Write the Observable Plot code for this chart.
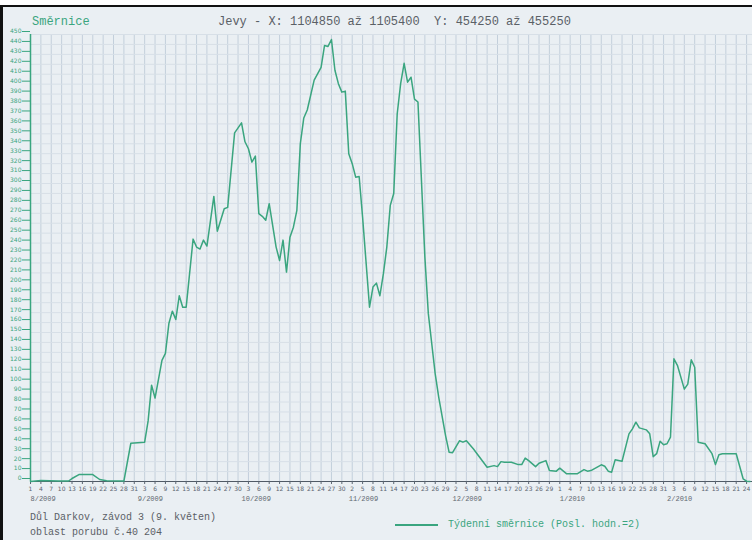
<!DOCTYPE html>
<html><head><meta charset="utf-8">
<script src="https://cdn.jsdelivr.net/npm/d3@7"></script>
<script src="https://cdn.jsdelivr.net/npm/@observablehq/plot@0.6"></script>
<style>
body{margin:0;background:#fff}
#wrap{position:relative;width:752px;height:540px;overflow:hidden;background:#eaeff3;font-family:"Liberation Mono","DejaVu Sans Mono",monospace}
#wrap svg{position:absolute;left:0;top:0}
.t{position:absolute;white-space:pre;line-height:1}
</style></head>
<body>
<div id="wrap">
  <div id="chart"></div>
  <div style="position:absolute;left:0;top:0;width:752px;height:5px;background:#fff"></div>
  <div style="position:absolute;left:0;top:5px;width:752px;height:2px;background:#111"></div>
  <div style="position:absolute;left:0;top:5px;width:3px;height:535px;background:#111"></div>
  <div class="t" style="left:32px;top:16px;font-size:12px;color:#3aa57f">Směrnice</div>
  <div class="t" style="left:218px;top:16px;font-size:12px;color:#5a6066">Jevy - X: 1104850 až 1105400  Y: 454250 až 455250</div>
  <div class="t" style="left:30px;top:513px;font-size:10px;color:#5a6066">Důl Darkov, závod 3 (9. květen)</div>
  <div class="t" style="left:30px;top:528px;font-size:10px;color:#5a6066">oblast porubu č.40 204</div>
  <div style="position:absolute;left:395px;top:524px;width:43px;height:1.5px;background:#3aa57f"></div>
  <div class="t" style="left:448px;top:520px;font-size:10px;color:#3aa57f">Týdenní směrnice (Posl. hodn.=2)</div>
</div>
<script>
const dates = [
"2009-08-01","2009-08-04","2009-08-09","2009-08-12","2009-08-13","2009-08-15","2009-08-19","2009-08-21","2009-08-23","2009-08-28",
"2009-08-30","2009-09-03","2009-09-04","2009-09-05","2009-09-06","2009-09-08","2009-09-09","2009-09-10","2009-09-11","2009-09-12",
"2009-09-13","2009-09-14","2009-09-15","2009-09-17","2009-09-18","2009-09-19","2009-09-20","2009-09-21","2009-09-23","2009-09-24",
"2009-09-26","2009-09-27","2009-09-29","2009-10-01","2009-10-02","2009-10-03","2009-10-04","2009-10-05","2009-10-06","2009-10-07",
"2009-10-08","2009-10-09","2009-10-11","2009-10-12","2009-10-13","2009-10-14","2009-10-15","2009-10-16","2009-10-17","2009-10-18",
"2009-10-19","2009-10-20","2009-10-22","2009-10-24","2009-10-25","2009-10-26","2009-10-27","2009-10-28","2009-10-29","2009-10-30",
"2009-10-31","2009-11-01","2009-11-02","2009-11-03","2009-11-04","2009-11-05","2009-11-07","2009-11-08","2009-11-09","2009-11-10",
"2009-11-11","2009-11-12","2009-11-13","2009-11-14","2009-11-15","2009-11-16","2009-11-17","2009-11-18","2009-11-19","2009-11-20",
"2009-11-21","2009-11-23","2009-11-24","2009-11-26","2009-11-27","2009-11-29","2009-11-30","2009-12-01","2009-12-03","2009-12-04",
"2009-12-05","2009-12-07","2009-12-11","2009-12-13","2009-12-14","2009-12-15","2009-12-16","2009-12-18","2009-12-20","2009-12-21",
"2009-12-22","2009-12-23","2009-12-25","2009-12-26","2009-12-28","2009-12-29","2009-12-31","2010-01-01","2010-01-03","2010-01-06",
"2010-01-08","2010-01-09","2010-01-10","2010-01-13","2010-01-14","2010-01-15","2010-01-16","2010-01-17","2010-01-19","2010-01-21",
"2010-01-22","2010-01-23","2010-01-24","2010-01-26","2010-01-27","2010-01-28","2010-01-29","2010-01-30","2010-01-31","2010-02-01",
"2010-02-02","2010-02-03","2010-02-04","2010-02-06","2010-02-07","2010-02-08","2010-02-09","2010-02-10","2010-02-12","2010-02-14",
"2010-02-15","2010-02-16","2010-02-17","2010-02-21","2010-02-23","2010-02-24","2010-02-25"
];
const values = [
0,1,0.5,0.5,3,7,7,2,0.8,0.5,
38.5,39.6,61,97,84,122,129,159,171.5,163,
187,175.5,175.5,244,236,234,243,237,287,252,
274.6,276,351,361,342,335,321.5,327.6,269.6,267,
263,279.7,236,222.5,243,210.8,246,256,273,340,
366,374,404,417,439,438,445,414,400.5,392,
393,330,320,306.4,307,266,175.5,195.7,199.7,187,
209,236,278,290,370,400.5,421,402,407,385,
382,226,169,108,85,46,29.5,29,41,39.6,
41,33,14.4,16,15,20,19.4,19.4,17,17,
23.5,21,15,18.4,21,11,10.4,13.4,7.7,7.7,
12,10.4,11,16.8,15.4,10.4,9.4,21.8,20.4,48,
53,59.7,54,52,48,25,28,40.6,37,38,
44.6,123.5,117,93,98,122.5,115,39.6,38,28,
17,27,28,28,2.7,0.3,0
];
const monthStarts = ["2009-08-01","2009-09-01","2009-10-01","2009-11-01","2009-12-01","2010-01-01","2010-02-01"];
const monthLabels = ["8/2009","9/2009","10/2009","11/2009","12/2009","1/2010","2/2010"];
const yTicks = d3.range(0, 451, 10);

const data = dates.map((d, i) => ({date: new Date(d), value: values[i]}));
const x0 = new Date("2009-08-01"), x1 = new Date("2010-02-25T17:00:00Z");
const tickDates = d3.utcDay.range(x0, new Date("2010-02-27"), 3);
const green = "#3aa57f";

const chart = Plot.plot({
  width: 752, height: 540,
  marginLeft: 30, marginRight: 0, marginTop: 34, marginBottom: 59,
  style: {background: "transparent", fontFamily: "DejaVu Sans, sans-serif", overflow: "visible"},
  x: {type: "utc", domain: [x0, x1]},
  y: {domain: [0, 450]},
  marks: [
    Plot.gridX(tickDates, {stroke: "#c3cfdb", strokeOpacity: 1}),
    Plot.gridY(yTicks, {stroke: "#d7dfe7", strokeOpacity: 1}),
    Plot.ruleX([x0], {stroke: green, strokeWidth: 1.5}),
    Plot.axisY(yTicks, {tickSize: 8, tickPadding: 1, dy: -3, color: green, fontSize: 6, tickFormat: d => d, label: null}),
    Plot.ruleY([0], {stroke: "#505a66", strokeWidth: 1.2}),
    Plot.axisX(tickDates, {tickSize: 3, tickPadding: 2, fontSize: 6, color: "#5a6470", tickFormat: d3.utcFormat("%-d"), label: null}),
    Plot.line(data, {x: "date", y: "value", stroke: green, strokeWidth: 1.5}),
    Plot.text(monthStarts, {x: d => new Date(d), text: (d, i) => monthLabels[i], frameAnchor: "bottom", dy: 19, textAnchor: "start", fontSize: 7, fill: "#5f6870", fontFamily: "Liberation Mono, monospace"})
  ]
});
document.getElementById("chart").appendChild(chart);
</script>
</body></html>
